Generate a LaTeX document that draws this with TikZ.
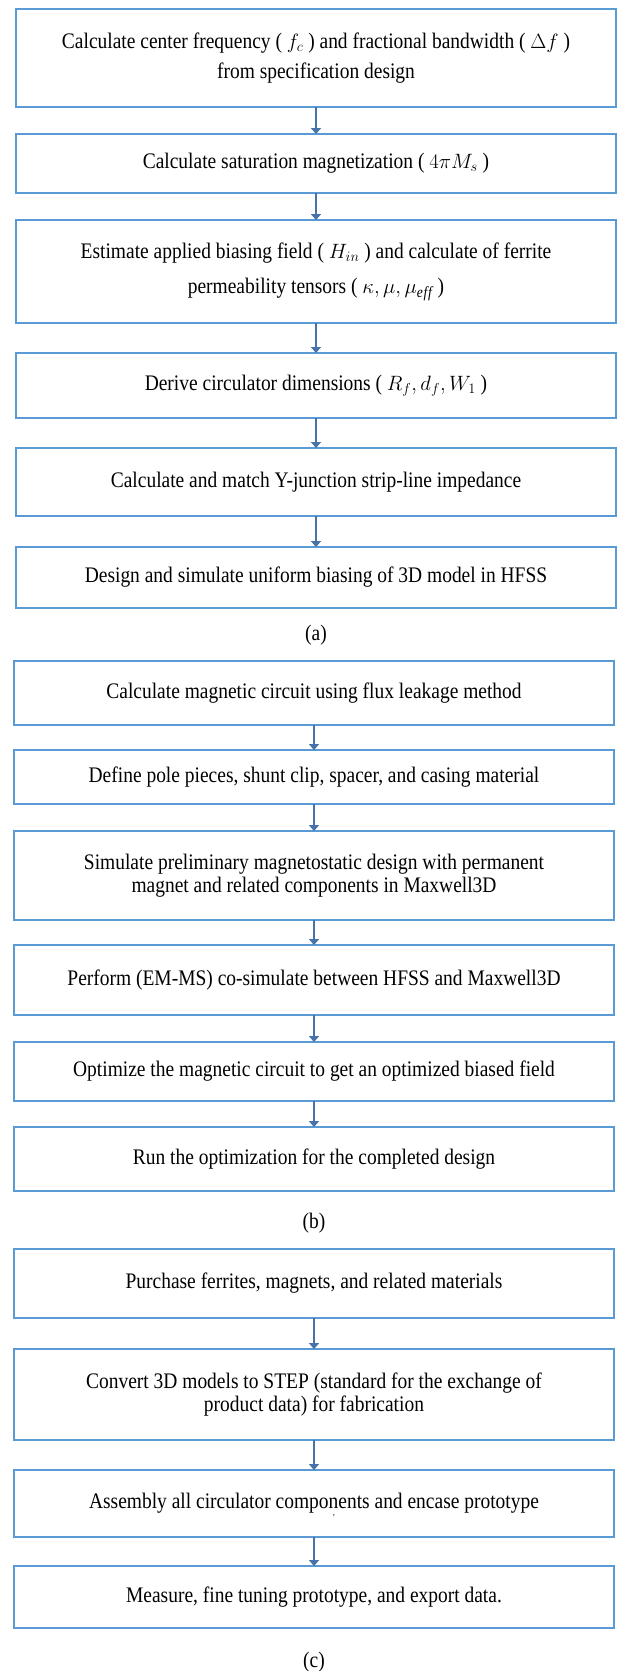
\documentclass[tikz,border=0pt]{standalone}
\usepackage{amsmath}
\usepackage{fontspec}
\setmainfont{Liberation Serif}[FakeStretch=0.877]
\usetikzlibrary{positioning,arrows.meta}
\definecolor{boxblue}{HTML}{5B9BD5}
\definecolor{arrowblue}{HTML}{4674A8}

\begin{document}
\begin{tikzpicture}
    [
        x=1pt, y=1pt,
        stepbox/.style={draw=boxblue, line width=2pt, minimum width=600pt, inner sep=0pt, outer sep=0pt, align=center, font=\fontsize{22.2}{23}\selectfont},
        caption/.style={inner sep=0pt, outer sep=0pt, font=\fontsize{22.2}{23}\selectfont},
        flow/.style={draw=arrowblue, line width=2.6pt},
        ->, >={Triangle[width=10pt,length=6pt]}
    ]
    \useasboundingbox (0,0) rectangle (619,-1671);
    \node[stepbox, minimum height=98pt] (freq) at (316,-58) {Calculate center frequency ( $f_c$ ) and fractional bandwidth ( $\Delta f$ ) \\[7pt] from specification design};
    \node[stepbox, minimum height=59pt, below=27pt of freq] (satur) {Calculate saturation magnetization ( $4\pi M_s$ )};
    \node[stepbox, minimum height=103pt, below=27pt of satur] (bias) {Estimate applied biasing field ( $H_{in}$ ) and calculate of ferrite \\[12pt] permeability tensors ( $\kappa, \mu, \mu_{\mathit{eff}}$ )};
    \node[stepbox, minimum height=65pt, below=30pt of bias] (dims) {Derive circulator dimensions ( $R_f, d_f, W_1$ )};
    \node[stepbox, minimum height=68pt, below=30pt of dims] (imped) {Calculate and match Y-junction strip-line impedance};
    \node[stepbox, minimum height=61pt, below=31pt of imped] (hfss) {Design and simulate uniform biasing of 3D model in HFSS};
    \node[caption, below=17pt of hfss] (capa) {(a)};

    \node[stepbox, minimum height=64pt] (flux) at (314,-693) {Calculate magnetic circuit using flux leakage method};
    \node[stepbox, minimum height=54pt, below=25pt of flux] (pole) {Define pole pieces, shunt clip, spacer, and casing material};
    \node[stepbox, minimum height=89pt, below=27pt of pole] (magneto) {Simulate preliminary magnetostatic design with permanent \\ magnet and related components in Maxwell3D};
    \node[stepbox, minimum height=70pt, below=25pt of magneto] (cosim) {Perform (EM-MS) co-simulate between HFSS and Maxwell3D};
    \node[stepbox, minimum height=59pt, below=27pt of cosim] (optim) {Optimize the magnetic circuit to get an optimized biased field};
    \node[stepbox, minimum height=64pt, below=26pt of optim] (runopt) {Run the optimization for the completed design};
    \node[caption, below=22pt of runopt] (capb) {(b)};

    \node[stepbox, minimum height=69pt] (purchase) at (314,-1283.5) {Purchase ferrites, magnets, and related materials};
    \node[stepbox, minimum height=91pt, below=31pt of purchase] (convert) {Convert 3D models to STEP (standard for the exchange of \\ product data) for fabrication};
    \node[stepbox, minimum height=67pt, below=30pt of convert] (assembly) {Assembly all circulator components and encase prototype};
    \node[stepbox, minimum height=62pt, below=29pt of assembly] (measure) {Measure, fine tuning prototype, and export data.};
    \node[caption, below=24pt of measure] (capc) {(c)};
    \node[caption, font=\fontsize{9}{9}\selectfont] (tick) at (334,-1517) {'};

    \draw[flow] (freq) -- (satur);
    \draw[flow] (satur) -- (bias);
    \draw[flow] (bias) -- (dims);
    \draw[flow] (dims) -- (imped);
    \draw[flow] (imped) -- (hfss);

    \draw[flow] (flux) -- (pole);
    \draw[flow] (pole) -- (magneto);
    \draw[flow] (magneto) -- (cosim);
    \draw[flow] (cosim) -- (optim);
    \draw[flow] (optim) -- (runopt);

    \draw[flow] (purchase) -- (convert);
    \draw[flow] (convert) -- (assembly);
    \draw[flow] (assembly) -- (measure);
\end{tikzpicture}
\end{document}
